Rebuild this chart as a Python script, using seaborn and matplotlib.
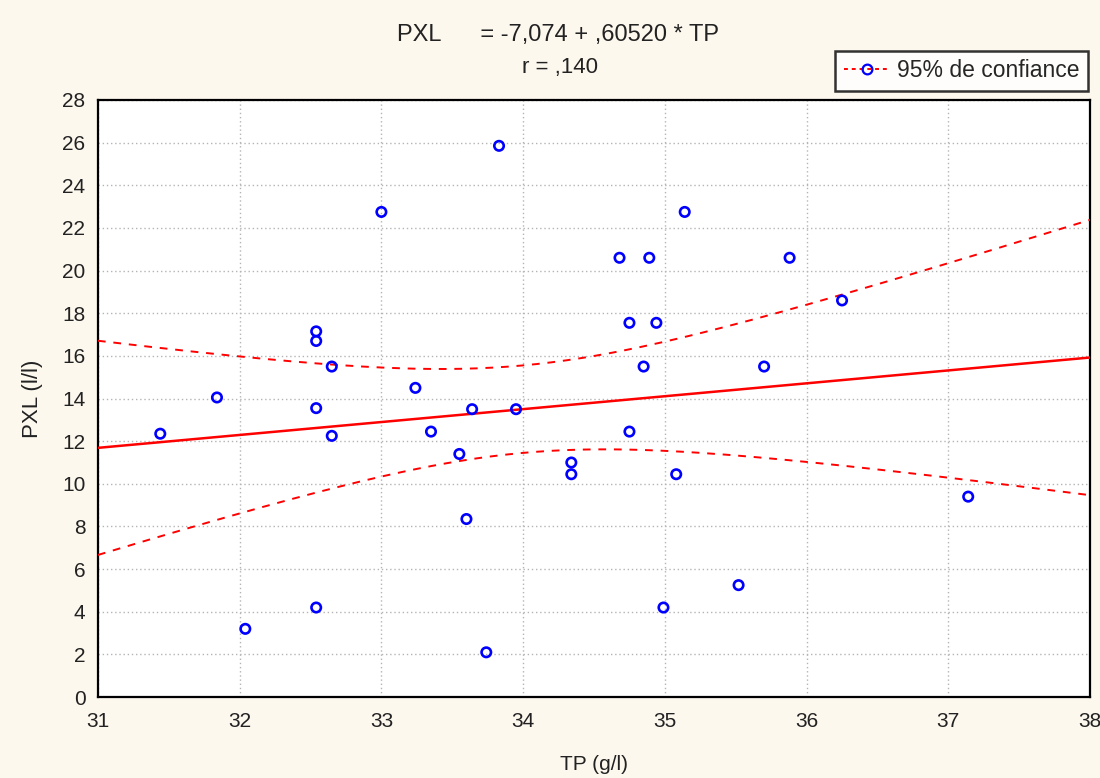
import numpy as np
import pandas as pd
import matplotlib
matplotlib.use("Agg")
import matplotlib.pyplot as plt
import seaborn as sns
from matplotlib.lines import Line2D

sns.set_theme(style="white")
plt.rcParams['font.family'] = ['Liberation Sans', 'DejaVu Sans']

# Observations: total protein (g/l) and PXL
tp = [31.44, 31.84, 32.04, 32.54, 32.54, 32.54, 32.54, 32.65, 32.65, 33.00,
      33.24, 33.35, 33.55, 33.60, 33.64, 33.74, 33.83, 33.95, 34.34, 34.34,
      34.68, 34.75, 34.75, 34.85, 34.89, 34.94, 34.99, 35.08, 35.14, 35.52,
      35.70, 35.88, 36.25, 37.14]
pxl = [12.35, 14.05, 3.2, 17.15, 16.7, 13.55, 4.2, 15.5, 12.25, 22.75,
       14.5, 12.45, 11.4, 8.35, 13.5, 2.1, 25.85, 13.5, 11.0, 10.45,
       20.6, 17.55, 12.45, 15.5, 20.6, 17.55, 4.2, 10.45, 22.75, 5.25,
       15.5, 20.6, 18.6, 9.4]

# Fitted regression stated in the header
intercept = -7.074
slope = 0.60520
r_value = 0.140

x_ticks = [31, 32, 33, 34, 35, 36, 37, 38]
y_ticks = list(range(0, 29, 2))

df = pd.DataFrame({"TP": tp, "PXL": pxl})

# Regression line and 95% confidence band of the mean
x = np.asarray(tp)
y = np.asarray(pxl)
n = len(x)
resid = y - (intercept + slope * x)
s = np.sqrt(np.sum(resid ** 2) / (n - 2))
xbar = x.mean()
sxx = np.sum((x - xbar) ** 2)
t_crit = 2.037
grid_x = np.linspace(31, 38, 200)
fit = intercept + slope * grid_x
half = t_crit * s * np.sqrt(1.0 / n + (grid_x - xbar) ** 2 / sxx)
band = pd.DataFrame({"x": grid_x, "fit": fit, "lo": fit - half, "hi": fit + half})

fig = plt.figure(figsize=(11, 7.78), dpi=100)
fig.patch.set_facecolor("#fdf8ee")
ax = fig.add_axes([0.089, 0.104, 0.902, 0.7675])
ax.set_facecolor("white")

sns.lineplot(data=band, x="x", y="fit", ax=ax, color="red", lw=1.8, zorder=3)
sns.lineplot(data=band, x="x", y="hi", ax=ax, color="red", lw=1.4,
             linestyle=(0, (4, 4)), zorder=3)
sns.lineplot(data=band, x="x", y="lo", ax=ax, color="red", lw=1.4,
             linestyle=(0, (4, 4)), zorder=3)
sns.scatterplot(data=df, x="TP", y="PXL", ax=ax, marker="o", s=46,
                facecolor="none", edgecolor="blue", linewidth=1.9, zorder=4)

ax.set_xlim(31, 38)
ax.set_ylim(0, 28)
ax.set_xticks(x_ticks)
ax.set_yticks(y_ticks)
ax.set_xticklabels([str(v) for v in x_ticks], fontsize=15)
ax.set_yticklabels([str(v) for v in y_ticks], fontsize=15)
ax.grid(True, color="#b4b4b4", linestyle=(0, (1, 2)), linewidth=1.0)
ax.tick_params(axis="both", which="both", length=4, direction="in",
               color="black", labelcolor="#222222")
ax.tick_params(axis="x", pad=11)
ax.tick_params(axis="y", pad=9)
for sp in ax.spines.values():
    sp.set_color("black")
    sp.set_linewidth(1.6)

ax.set_xlabel("TP (g/l)", fontsize=15, labelpad=17, color="#222222")
ax.set_ylabel("PXL (l/l)", fontsize=16, labelpad=14, color="#222222")

fig.text(0.507, 0.955, "PXL      = -7,074 + ,60520 * TP", ha="center",
         va="center", fontsize=17, color="#222222")
fig.text(0.509, 0.913, "r = ,140", ha="center", va="center", fontsize=16,
         color="#222222")

handle = Line2D([0], [0], color="red", linestyle=(0, (2, 2)), lw=1.4,
                marker="o", markerfacecolor="none", markeredgecolor="blue",
                markersize=7, markeredgewidth=1.6)
leg = fig.legend([handle], ["95% de confiance"], loc="upper right",
                 bbox_to_anchor=(0.989, 0.935), frameon=True, fontsize=16.5,
                 handlelength=2.0, handletextpad=0.3, borderpad=0.38,
                 borderaxespad=0.0, fancybox=False, facecolor="white",
                 edgecolor="black")
leg.get_frame().set_linewidth(1.8)

fig.savefig("out.png", dpi=100, facecolor=fig.get_facecolor())
